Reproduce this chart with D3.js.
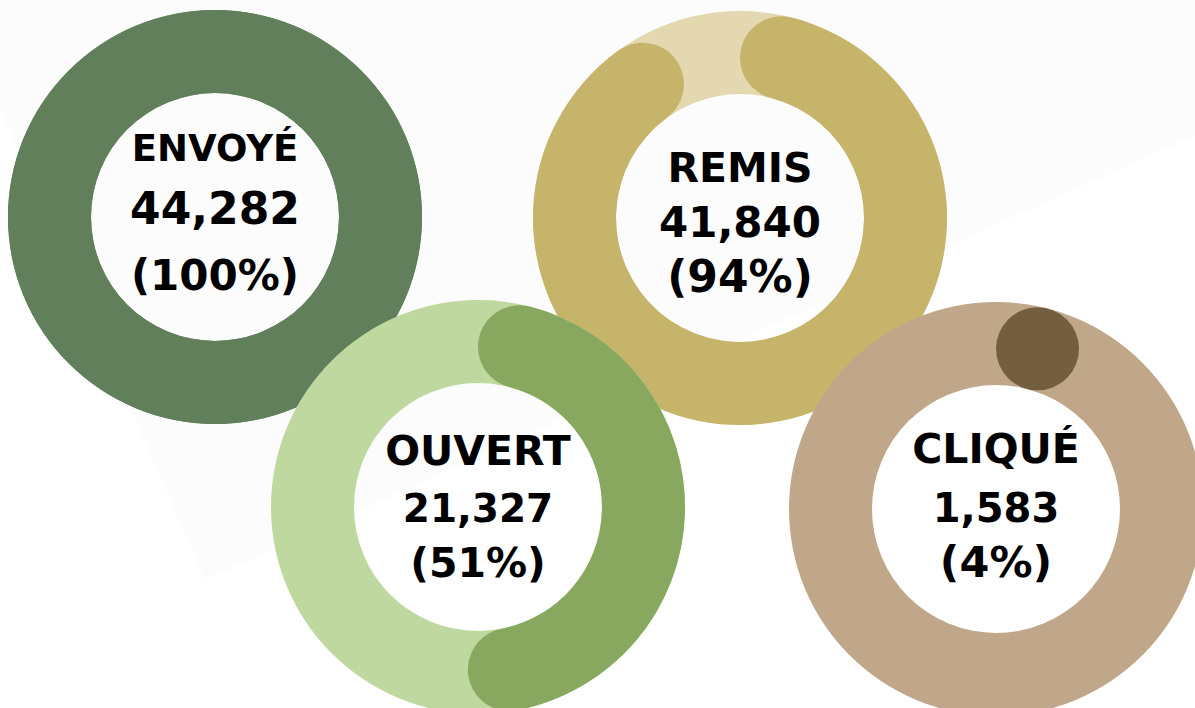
<!DOCTYPE html>
<html>
<head>
<meta charset="utf-8">
<script src="https://cdn.jsdelivr.net/npm/d3@7"></script>
<style>
  html, body { margin: 0; padding: 0; background: #ffffff; }
  svg { display: block; }
  .label { font-family: "DejaVu Sans", sans-serif; font-weight: bold; fill: #000; text-anchor: middle; }
</style>
</head>
<body>
<svg id="chart" width="1195" height="708"></svg>
<script>
  // data
  var stages = ["ENVOYÉ", "REMIS", "OUVERT", "CLIQUÉ"];
  var counts = [44282, 41840, 21327, 1583];
  var percents = [100, 94, 51, 4];

  // look and layout
  var track_colors = ["#627F5C", "#E3D8B0", "#BED89F", "#C0A78A"];
  var value_colors = ["#627F5C", "#C6B46B", "#88A860", "#735E3F"];
  var centers = [[215, 217], [740, 218], [478, 507], [996, 509]];
  // baseline offsets from centre for title / count / percent lines
  var text_offsets = [[-56, 7, 73], [-36, 19, 74], [-42, 15, 70], [-46, 13, 68]];
  var text_sizes = [[37, 44, 42], [41, 42, 44], [41, 39, 41], [41, 40, 43]];

  var outer_r = 207,
    thickness = 83,
    inner_r = outer_r - thickness,
    mid_r = outer_r - thickness / 2,
    cap_angle = Math.asin((thickness / 2) / mid_r);

  var svg = d3.select("#chart");

  // faint rotated backdrop square
  svg.append("polygon")
    .attr("points", "205,580 1300,88 1300,-120 -100,-120")
    .style("fill", "#FCFCFC");

  var angle = d3.scaleLinear().domain([0, 100]).range([0, 2 * Math.PI]);

  var track_arc = d3.arc()
    .innerRadius(inner_r)
    .outerRadius(outer_r)
    .startAngle(0)
    .endAngle(2 * Math.PI);

  var value_arc = d3.arc()
    .innerRadius(inner_r)
    .outerRadius(outer_r)
    .cornerRadius(thickness / 2)
    .startAngle(0)
    .endAngle(function(d) { return angle(d); });

  var fmt = d3.format(",");

  var donut = svg.selectAll(".donut")
      .data(stages)
      .enter()
      .append("g")
      .attr("class", "donut")
      .attr("transform", function(d, i) { return "translate(" + centers[i][0] + "," + centers[i][1] + ")"; });

    donut.append("path")
      .attr("class", "track")
      .attr("d", track_arc())
      .style("fill", function(d, i) { return track_colors[i]; });

    donut.each(function(d, i) {
      var g = d3.select(this);
      var a = angle(percents[i]);
      if (a <= 2 * cap_angle) {
        // too short for an arc: just the rounded cap
        g.append("circle")
          .attr("cx", mid_r * Math.sin(cap_angle))
          .attr("cy", -mid_r * Math.cos(cap_angle))
          .attr("r", thickness / 2)
          .style("fill", value_colors[i]);
      } else {
        g.append("path")
          .attr("d", value_arc(percents[i]))
          .style("fill", value_colors[i]);
      }
    });

    donut.append("text")
      .attr("class", "label")
      .attr("y", function(d, i) { return text_offsets[i][0]; })
      .style("font-size", function(d, i) { return text_sizes[i][0] + "px"; })
      .text(function(d) { return d; });

    donut.append("text")
      .attr("class", "label")
      .attr("y", function(d, i) { return text_offsets[i][1]; })
      .style("font-size", function(d, i) { return text_sizes[i][1] + "px"; })
      .text(function(d, i) { return fmt(counts[i]); });

    donut.append("text")
      .attr("class", "label")
      .attr("y", function(d, i) { return text_offsets[i][2]; })
      .style("font-size", function(d, i) { return text_sizes[i][2] + "px"; })
      .text(function(d, i) { return "(" + percents[i] + "%)"; });
</script>
</body>
</html>
